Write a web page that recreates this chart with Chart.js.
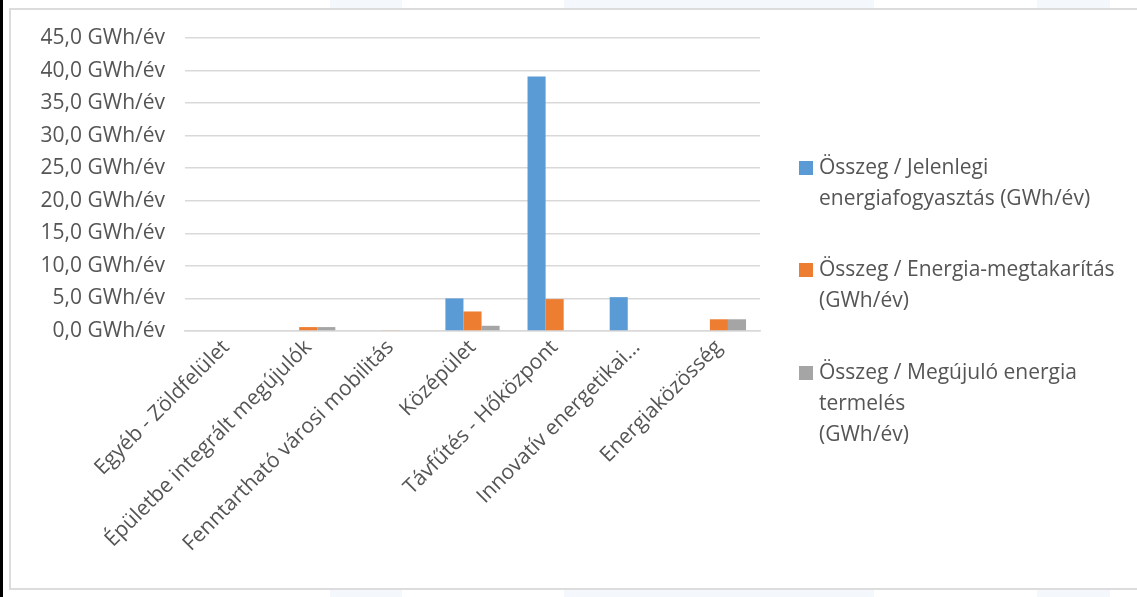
<!DOCTYPE html>
<html>
<head>
<meta charset="utf-8">
<script src="https://cdn.jsdelivr.net/npm/chart.js@4"></script>
<style>
  html, body { margin: 0; padding: 0; background: #fff; }
  body { width: 1137px; height: 597px; position: relative; overflow: hidden; }
  .strip { position: absolute; left: 0; top: 0; width: 3px; height: 597px; background: #000; }
  .tint { position: absolute; background: #f4f8fd; }
  .frame { position: absolute; left: 9px; top: 8px; width: 1140px; height: 578px; border: 2px solid #dcdcdc; background: #fff; }
  #chart { position: absolute; left: 0; top: 0; }
</style>
</head>
<body>
<div class="tint" style="left:330px;top:0;width:72px;height:597px"></div>
<div class="tint" style="left:564px;top:0;width:310px;height:597px"></div>
<div class="tint" style="left:1037px;top:0;width:73px;height:597px"></div>
<div class="strip"></div>
<div class="frame"></div>
<canvas id="chart" width="1137" height="597"></canvas>
<script>
const categories = [
  'Egyéb - Zöldfelület',
  'Épületbe integrált megújulók',
  'Fenntartható városi mobilitás',
  'Középület',
  'Távfűtés - Hőközpont',
  'Innovatív energetikai...',
  'Energiaközösség'
]

const jelenlegi = [0, 0, 0, 5.0, 39.1, 5.2, 0]
const megtakaritas = [0, 0.6, 0.1, 3.0, 4.9, 0, 1.8]
const megujulo = [0, 0.6, 0, 0.8, 0, 0, 1.8]

const seriesNames = [
  ['Összeg / Jelenlegi', 'energiafogyasztás (GWh/év)'],
  ['Összeg / Energia-megtakarítás', '(GWh/év)'],
  ['Összeg / Megújuló energia', 'termelés', '(GWh/év)']
]
const seriesColors = ['#5b9bd5', '#ed7d31', '#a5a5a5']

const yTicks = [0, 5, 10, 15, 20, 25, 30, 35, 40, 45]

const FONT = '"Open Sans", sans-serif'
const TEXT = '#555555'

// legend drawn by hand so the labels can wrap like the original
const sideLegend = {
  id: 'sideLegend',
  afterDraw(chart) {
    const ctx = chart.ctx
    const tops = [168, 270, 373]
    ctx.save()
    ctx.font = '21px ' + FONT
    ctx.textBaseline = 'middle'
    ctx.textAlign = 'left'
    seriesNames.forEach((lines, i) => {
      ctx.fillStyle = seriesColors[i]
      ctx.fillRect(799, tops[i] - 7, 14, 14)
      ctx.fillStyle = TEXT
      lines.forEach((line, j) => {
        ctx.fillText(line, 819, tops[i] + j * 31)
      })
    })
    ctx.restore()
  }
}

new Chart(document.getElementById('chart'), {
  type: 'bar',
  data: {
    labels: categories,
    datasets: [
      { label: seriesNames[0].join(' '), data: jelenlegi, backgroundColor: seriesColors[0] },
      { label: seriesNames[1].join(' '), data: megtakaritas, backgroundColor: seriesColors[1] },
      { label: seriesNames[2].join(' '), data: megujulo, backgroundColor: seriesColors[2] }
    ]
  },
  options: {
    responsive: false,
    animation: false,
    datasets: {
      bar: {
        categoryPercentage: 0.66,
        barPercentage: 1.0
      }
    },
    layout: {
      padding: { top: 38, right: 377, left: 0, bottom: 0 }
    },
    plugins: {
      legend: { display: false },
      tooltip: { enabled: false }
    },
    scales: {
      x: {
        afterFit: function(scale) { scale.height = 266 },
        grid: { display: false, drawTicks: false },
        border: { display: true, color: '#d9d9d9', width: 1.5 },
        ticks: {
          autoSkip: false,
          minRotation: 45,
          maxRotation: 45,
          padding: 4,
          color: TEXT,
          font: { family: FONT, size: 21 }
        }
      },
      y: {
        min: 0,
        max: 45,
        afterFit: function(scale) { scale.width = 185 },
        afterBuildTicks: function(scale) { scale.ticks = yTicks.map(v => ({ value: v })) },
        grid: { color: '#d9d9d9', lineWidth: 1.5, drawTicks: false },
        border: { display: false },
        ticks: {
          padding: 20,
          color: TEXT,
          font: { family: FONT, size: 21 },
          callback: function(value) {
            return value.toFixed(1).replace('.', ',') + ' GWh/év'
          }
        }
      }
    }
  },
  plugins: [sideLegend]
})
</script>
</body>
</html>
